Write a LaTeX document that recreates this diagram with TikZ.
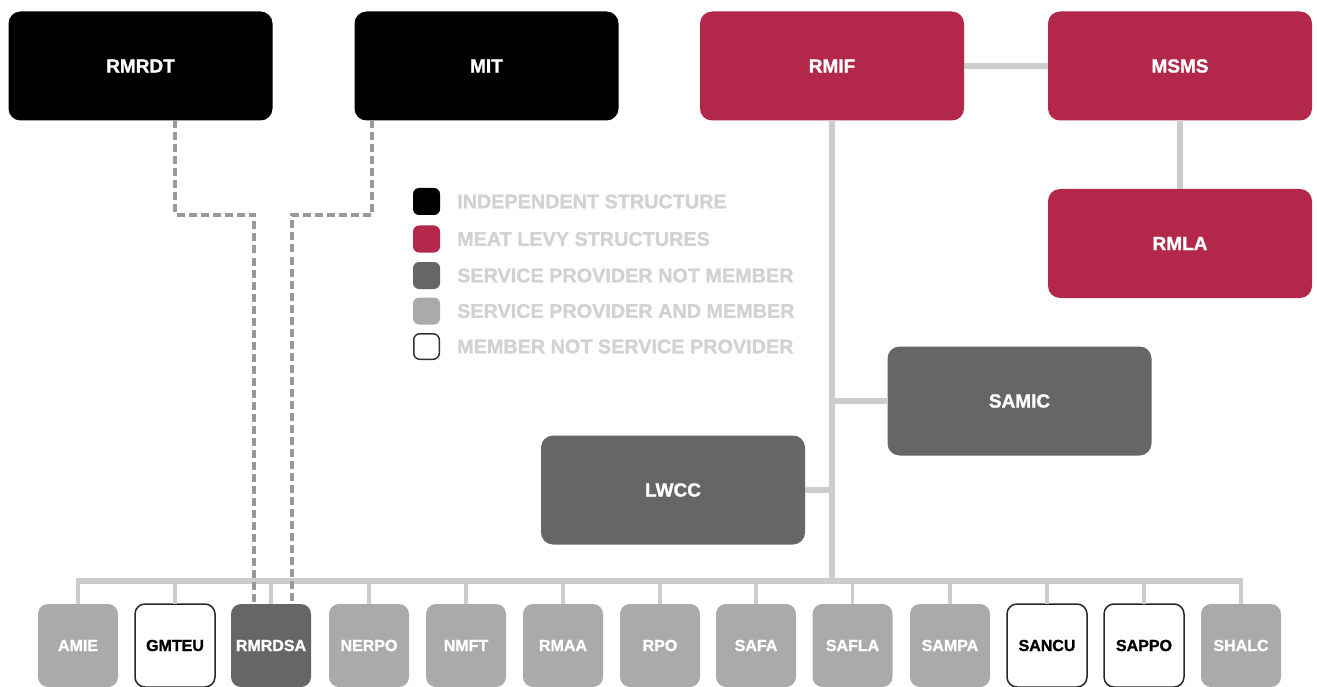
\documentclass[tikz,border=0pt]{standalone}
\usepackage{fontspec}
\setmainfont{Liberation Sans}[BoldFeatures={FakeBold=1.3}]
\definecolor{levy}{HTML}{B3284A}
\definecolor{darkbox}{HTML}{666666}
\definecolor{lightbox}{HTML}{AAAAAA}
\definecolor{conncol}{HTML}{CCCCCC}
\definecolor{legtext}{HTML}{D2D2D2}
\definecolor{dashcol}{HTML}{999999}
\begin{document}
\begin{tikzpicture}[x=1pt,y=-1pt,
  big/.style={rounded corners=12pt,minimum width=264pt,minimum height=109pt,inner sep=0pt,outer sep=0pt,
     font=\fontsize{19}{22}\selectfont\bfseries,text=white},
  indep/.style={big,fill=black},
  levybox/.style={big,fill=levy},
  spnm/.style={big,fill=darkbox},
  small/.style={rounded corners=10pt,minimum width=80pt,minimum height=83pt,inner sep=0pt,outer sep=0pt,
     font=\fontsize{16}{19}\selectfont\bfseries},
  spm/.style={small,fill=lightbox,text=white},
  spnmsmall/.style={small,fill=darkbox,text=white},
  mnsp/.style={small,fill=white,draw=black!85,line width=1.5pt,text=black},
  conn/.style={draw=conncol,line width=6pt},
  drop/.style={draw=conncol,line width=3.5pt},
  dashline/.style={draw=dashcol,line width=4pt,dash pattern=on 8pt off 4pt},
  legsq/.style={rounded corners=6pt,minimum size=27pt,inner sep=0pt,outer sep=0pt},
  legtxt/.style={anchor=west,inner sep=0pt,text=legtext,font=\fontsize{19.8}{22}\selectfont\bfseries}]
\useasboundingbox (0,0) rectangle (1317,687);
\coordinate (busL) at (78,581);
\coordinate (busR) at (1241,581);
% top boxes
\node[indep] (RMRDT) at (140.5,66) {RMRDT};
\node[indep] (MIT) at (486.5,66) {MIT};
\node[levybox] (RMIF) at (832,66) {RMIF};
\node[levybox] (MSMS) at (1180,66) {MSMS};
\node[levybox] (RMLA) at (1180,243.5) {RMLA};
\node[spnm] (SAMIC) at (1019.5,401) {SAMIC};
\node[spnm] (LWCC) at (673,490) {LWCC};
% bottom row
\node[spm] (AMIE) at (78,645.5) {AMIE};
\node[mnsp] (GMTEU) at (175,645.5) {GMTEU};
\node[spnmsmall] (RMRDSA) at (271,645.5) {RMRDSA};
\node[spm] (NERPO) at (369,645.5) {NERPO};
\node[spm] (NMFT) at (466,645.5) {NMFT};
\node[spm] (RMAA) at (563,645.5) {RMAA};
\node[spm] (RPO) at (660,645.5) {RPO};
\node[spm] (SAFA) at (756,645.5) {SAFA};
\node[spm] (SAFLA) at (852.5,645.5) {SAFLA};
\node[spm] (SAMPA) at (950,645.5) {SAMPA};
\node[mnsp] (SANCU) at (1047,645.5) {SANCU};
\node[mnsp] (SAPPO) at (1144,645.5) {SAPPO};
\node[spm] (SHALC) at (1241,645.5) {SHALC};
% connectors
\path[conn] (RMIF.east) -- (MSMS.west);
\path[conn] (MSMS.south) -- (RMLA.north);
\path[conn] (RMIF.south) -- (RMIF.south |- busL);
\path[conn] (SAMIC.west) -- (SAMIC.west -| RMIF.south);
\path[conn] (LWCC.east) -- (LWCC.east -| RMIF.south);
\path[conn] ([xshift=-1.75pt]busL) -- ([xshift=1.75pt]busR);
\foreach \b in {AMIE,GMTEU,RMRDSA,NERPO,NMFT,RMAA,RPO,SAFA,SAFLA,SAMPA,SANCU,SAPPO,SHALC}{
  \path[drop] (\b.north) -- (\b.north |- busL);
}
% dashed links
\coordinate (d1) at (175,215);
\coordinate (d2) at (372,215);
\path[dashline] (RMRDT.south -| d1) -- (d1) -| ([xshift=-17pt]RMRDSA.north);
\path[dashline] (MIT.south -| d2) -- (d2) -| ([xshift=21pt]RMRDSA.north);
% legend
\node[legsq,fill=black] (L1) at (426.5,201.5) {};
\node[legsq,fill=levy] (L2) at (426.5,239) {};
\node[legsq,fill=darkbox] (L3) at (426.5,275.5) {};
\node[legsq,fill=lightbox] (L4) at (426.5,311) {};
\node[legsq,fill=white,draw=black!80,line width=1.5pt,minimum size=25.5pt] (L5) at (426.5,346.5) {};
\node[legtxt] (T1) at (457,201.5) {INDEPENDENT STRUCTURE};
\node[legtxt] (T2) at (457,239) {MEAT LEVY STRUCTURES};
\node[legtxt] (T3) at (457,275.5) {SERVICE PROVIDER NOT MEMBER};
\node[legtxt] (T4) at (457,311) {SERVICE PROVIDER AND MEMBER};
\node[legtxt] (T5) at (457,346.5) {MEMBER NOT SERVICE PROVIDER};
\end{tikzpicture}
\end{document}
